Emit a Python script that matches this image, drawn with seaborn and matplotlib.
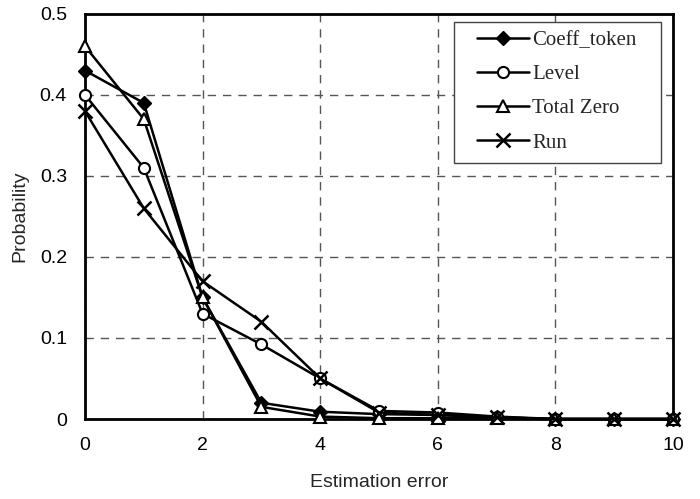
import matplotlib
matplotlib.use("Agg")
import matplotlib.pyplot as plt
from matplotlib.patches import Rectangle
import seaborn as sns
import pandas as pd

x_vals = [0, 1, 2, 3, 4, 5, 6, 7, 8, 9, 10]
coeff_token = [0.43, 0.39, 0.15, 0.02, 0.009, 0.006, 0.005, 0.002, 0.0, 0.0, 0.0]
level = [0.40, 0.31, 0.13, 0.092, 0.05, 0.01, 0.008, 0.003, 0.0, 0.0, 0.0]
total_zero = [0.46, 0.37, 0.15, 0.015, 0.003, 0.001, 0.001, 0.001, 0.0, 0.0, 0.0]
run = [0.38, 0.26, 0.17, 0.12, 0.05, 0.008, 0.005, 0.002, 0.0, 0.0, 0.0]
series_names = ["Coeff_token", "Level", "Total Zero", "Run"]
x_ticks = [0, 2, 4, 6, 8, 10]
y_ticks = [0, 0.1, 0.2, 0.3, 0.4, 0.5]

sns.set_style("white")
plt.rcParams["font.family"] = ["Liberation Sans", "DejaVu Sans"]

rows = []
for name, vals in zip(series_names, [coeff_token, level, total_zero, run]):
    for xv, yv in zip(x_vals, vals):
        rows.append({"x": xv, "y": yv, "series": name})
df = pd.DataFrame(rows)

fig = plt.figure(figsize=(7.0, 4.99), dpi=100)
ax = fig.add_axes([0.1214, 0.1603, 0.84, 0.812])

styles = {
    "Coeff_token": dict(marker="D", mfc="black", mec="black", ms=7),
    "Level": dict(marker="o", mfc="white", mec="black", ms=8, mew=1.5),
    "Total Zero": dict(marker="^", mfc="white", mec="black", ms=9, mew=1.5),
    "Run": dict(marker="x", mfc="none", mec="black", ms=10, mew=1.8),
}
for name in series_names:
    sub = df[df["series"] == name]
    st = styles[name]
    sns.lineplot(data=sub, x="x", y="y", ax=ax, color="black", linewidth=1.8,
                 marker=st["marker"], markerfacecolor=st["mfc"],
                 markeredgecolor=st["mec"], markersize=st["ms"],
                 markeredgewidth=st.get("mew", 1.0), label=name, zorder=3,
                 clip_on=False)

ax.set_xlim(0, 10)
ax.set_ylim(0, 0.5)
ax.set_xticks(x_ticks)
ax.set_yticks(y_ticks)
ax.set_xticklabels([str(t) for t in x_ticks])
ax.set_yticklabels(["0", "0.1", "0.2", "0.3", "0.4", "0.5"])
ax.tick_params(axis="both", labelsize=14, length=5, width=1.2, direction="out",
               colors="black", pad=8)
ax.grid(True, color="#555555", linestyle=(0, (6, 5)), linewidth=1.0)
for side in ["left", "bottom", "top", "right"]:
    ax.spines[side].set_visible(True)
    ax.spines[side].set_color("black")
    ax.spines[side].set_linewidth(2.0)

ax.set_xlabel("Estimation error", fontsize=14, labelpad=14)
ax.set_ylabel("Probability", fontsize=14, labelpad=8)

# legend frame box (drawn separately to match the wider padding)
box = Rectangle((0.6486, 0.6733), 0.2957, 0.2826, transform=fig.transFigure,
                facecolor="white", edgecolor="#444444", linewidth=1.0, zorder=4)
fig.add_artist(box)

leg = ax.legend(loc="upper left", bbox_to_anchor=(0.6814, 0.939),
                bbox_transform=fig.transFigure,
                prop={"family": "Liberation Serif", "size": 15},
                frameon=False, handlelength=2.5, labelspacing=0.70,
                borderpad=0, handletextpad=0.15, borderaxespad=0)
leg.set_zorder(5)
fig.add_artist(leg)

fig.savefig("out.png", dpi=100)
